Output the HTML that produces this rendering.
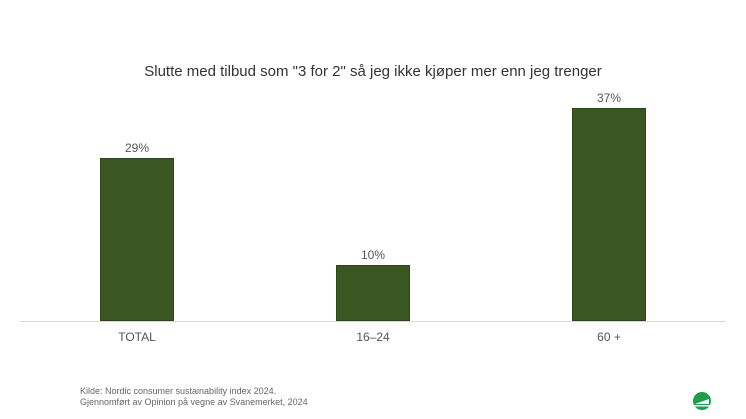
<!DOCTYPE html>
<html><head><meta charset="utf-8"><style>
body{margin:0;width:746px;height:419px;background:#fff;font-family:"Liberation Sans",sans-serif;overflow:hidden;position:relative}
.t{position:absolute;white-space:nowrap;color:#444}
.bar{position:absolute;background:#3a5623;border:1px solid #2d4619;box-sizing:border-box}
.c{transform:translateX(-50%)}
</style></head><body>
<div class="t c" style="left:373px;top:63px;font-size:15px;color:#333">Slutte med tilbud som "3 for 2" så jeg ikke kjøper mer enn jeg trenger</div>
<div style="position:absolute;left:20px;top:321px;width:706px;height:1px;background:#d9d9d9"></div>
<div class="bar" style="left:100px;top:158px;width:74px;height:163px"></div>
<div class="bar" style="left:336px;top:265px;width:74px;height:56px"></div>
<div class="bar" style="left:572px;top:108px;width:74px;height:213px"></div>
<div class="t c" style="left:137px;top:141px;font-size:12px;color:#555">29%</div>
<div class="t c" style="left:373px;top:248px;font-size:12px;color:#555">10%</div>
<div class="t c" style="left:609px;top:91px;font-size:12px;color:#555">37%</div>
<div class="t c" style="left:137px;top:330px;font-size:12px;color:#555">TOTAL</div>
<div class="t c" style="left:373px;top:330px;font-size:12px;color:#555">16–24</div>
<div class="t c" style="left:609px;top:330px;font-size:12px;color:#555">60 +</div>
<div class="t" style="left:80px;top:386px;font-size:9px;line-height:11px;color:#666">Kilde: Nordic consumer sustainability index 2024.<br>Gjennomført av Opinion på vegne av Svanemerket, 2024</div>
<svg style="position:absolute;left:692px;top:391px" width="20" height="20" viewBox="0 0 20 20">
<circle cx="10" cy="10" r="9" fill="#1e9e4a"/>
<path d="M3 13 L17 13 L17 8 Z" fill="#fff"/>
<rect x="2" y="14" width="16" height="1.5" fill="#fff"/>
</svg>
</body></html>
